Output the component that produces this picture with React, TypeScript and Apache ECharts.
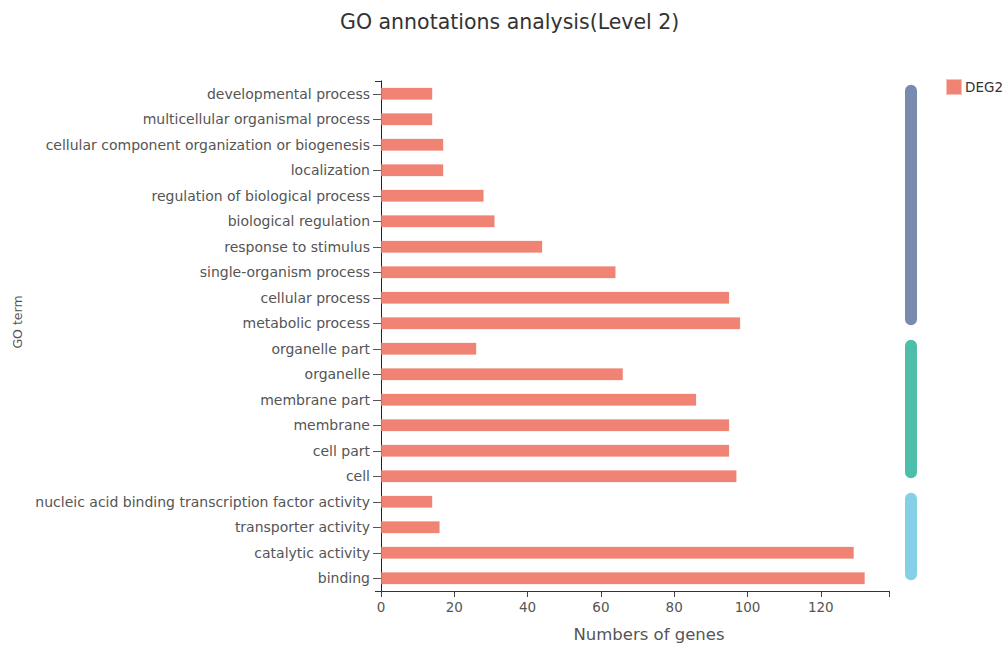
import React, { useEffect, useRef } from "react";
import * as echarts from "echarts";

// GO terms, listed top to bottom
const terms = [
  "developmental process",
  "multicellular organismal process",
  "cellular component organization or biogenesis",
  "localization",
  "regulation of biological process",
  "biological regulation",
  "response to stimulus",
  "single-organism process",
  "cellular process",
  "metabolic process",
  "organelle part",
  "organelle",
  "membrane part",
  "membrane",
  "cell part",
  "cell",
  "nucleic acid binding transcription factor activity",
  "transporter activity",
  "catalytic activity",
  "binding",
];

// Gene counts for DEG2, same order as terms
const deg2Counts = [14, 14, 17, 17, 28, 31, 44, 64, 95, 98, 26, 66, 86, 95, 95, 97, 14, 16, 129, 132];

// GO ontology groups: [first term index, last term index]
const ontologyGroups = [
  { name: "biological process", range: [0, 9], color: "#788AAE" },
  { name: "cellular component", range: [10, 15], color: "#4DBEAA" },
  { name: "molecular function", range: [16, 19], color: "#84D0E4" },
];

const xTicks = [0, 20, 40, 60, 80, 100, 120];

const FONT = "'DejaVu Sans', 'Open Sans', sans-serif";

export default function App() {
  const ref = useRef<HTMLDivElement>(null);

  useEffect(() => {
    if (!ref.current) return;
    const chart = echarts.init(ref.current, undefined, { renderer: "svg" });
    const xMax = Math.max(...deg2Counts) * 1.05;

    chart.setOption({
      animation: false,
      backgroundColor: "#fff",
      textStyle: { fontFamily: FONT },
      title: {
        text: "GO annotations analysis(Level 2)",
        left: 335,
        top: 6,
        textStyle: { fontFamily: FONT, fontSize: 20.5, fontWeight: "normal", color: "#333" },
      },
      legend: {
        data: ["DEG2"],
        left: 941,
        top: 74,
        itemWidth: 14,
        itemHeight: 14,
        icon: "rect",
        textStyle: { fontFamily: FONT, fontSize: 13.5, color: "#333", padding: [0, 0, 0, -1] },
      },
      grid: { left: 381, right: 116, top: 81, bottom: 55, containLabel: false },
      xAxis: {
        type: "value",
        min: 0,
        max: xMax,
        interval: 20,
        name: "Numbers of genes",
        nameLocation: "middle",
        nameGap: 35,
        nameTextStyle: { fontFamily: FONT, fontSize: 16.5, color: "#555", padding: [0, 0, 0, 28] },
        axisLine: { show: true, lineStyle: { color: "#333", width: 1 } },
        axisTick: { show: true, length: 6, lineStyle: { color: "#444" } },
        axisLabel: {
          fontFamily: FONT,
          fontSize: 13.5,
          color: "#555",
          margin: 9,
          formatter: (v: number) => (xTicks.includes(v) ? String(v) : ""),
        },
        splitLine: { show: false },
      },
      yAxis: [
        {
          type: "category",
          data: terms,
          inverse: true,
          name: "GO term",
          nameLocation: "middle",
          nameRotate: 90,
          nameGap: 355,
          nameTextStyle: { fontFamily: FONT, fontSize: 12.5, color: "#555", padding: [0, 0, 0, 28] },
          axisLine: { show: true, lineStyle: { color: "#222", width: 1 } },
          axisTick: { show: true, alignWithLabel: true, length: 8, lineStyle: { color: "#555" } },
          axisLabel: { fontFamily: FONT, fontSize: 14, color: "#555", margin: 11 },
          splitLine: { show: false },
        },
        {
          // draws only the outer end ticks of the left axis
          type: "value",
          position: "left",
          min: 0,
          max: 1,
          interval: 1,
          axisLine: { show: false },
          axisTick: { show: true, length: 6, lineStyle: { color: "#333" } },
          axisLabel: { show: false },
          splitLine: { show: false },
        },
      ],
      series: [
        {
          name: "DEG2",
          type: "bar",
          data: deg2Counts,
          barWidth: 12,
          itemStyle: { color: "#F08374", borderColor: "rgba(240,131,116,0.5)", borderWidth: 0.5 },
        },
        {
          name: "GO ontology",
          type: "custom",
          clip: false,
          silent: true,
          data: ontologyGroups.map((g, i) => [0, g.range[0], g.range[1], i]),
          encode: { x: 0, y: [1, 2] },
          renderItem: (params: any, api: any) => {
            const cs = params.coordSys;
            const y0 = api.coord([0, api.value(1)])[1];
            const y1 = api.coord([0, api.value(2)])[1];
            const g = ontologyGroups[api.value(3)];
            const top = y0 - 9;
            const bottom = y1 + 2;
            return {
              type: "rect",
              shape: { x: cs.x + cs.width + 16, y: top, width: 12, height: bottom - top, r: 6 },
              style: { fill: g.color },
            };
          },
        },
      ],
    });

    return () => chart.dispose();
  }, []);

  return (
    <div
      ref={ref}
      style={{ position: "absolute", left: 0, top: 0, width: 1005, height: 648 }}
    />
  );
}
